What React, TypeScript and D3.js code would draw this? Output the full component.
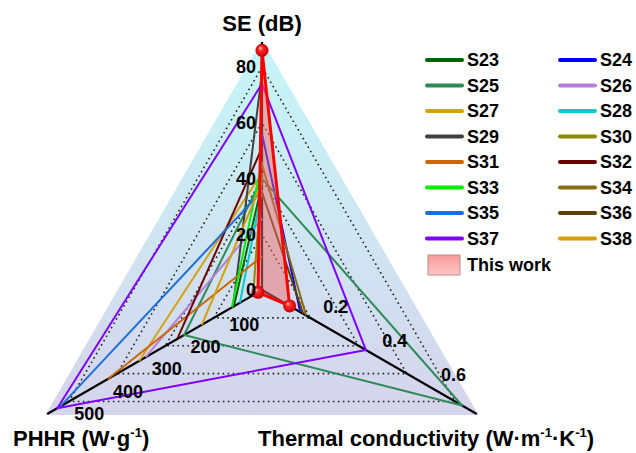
import * as d3 from "d3";

const seriesNames = ["S23", "S24", "S25", "S26", "S27", "S28", "S29", "S30", "S31", "S32", "S33", "S34", "S35", "S36", "S37", "S38"];
const seriesColors = ["#006400", "#0000ff", "#2e8b57", "#b57edc", "#d4a017", "#00cccc", "#404040", "#8b8b00", "#cc6600", "#6b0000", "#00ee00", "#8b6914", "#1c6fd8", "#5c4000", "#8000ff", "#d4a000"];
// SE (dB), PHHR (W/g), thermal conductivity (W/mK); null = not reported
const seValues = [38, 56, 40, 25.6, 42, 36, 78, 42, 12, 51, 46, 45, 35.5, 35, 74, 38.6];
const phhrValues = [70, null, 194, 290, 306, 55, 72, 22, 384, 211, 75, null, 503, null, 510, 150];
const tcValues = [null, 0.13, 0.68, null, null, null, null, null, null, null, null, 0.15, null, 0.14, 0.353, null];

const thisWork = { se: 86, phhr: 10, tc: 0.094 };

const seTicks = [0, 20, 40, 60, 80];
const phhrTicks = [100, 200, 300, 400, 500];
const tcTicks = [0.2, 0.4, 0.6];

const W = 636;
const H = 453;
const cx = 262;
const cy = 290;
const R = 248;

const rSE = d3.scaleLinear().domain([0, 89]).range([0, R]);
const rPHHR = d3.scaleLinear().domain([0, 535]).range([0, R]);
const rTC = d3.scaleLinear().domain([0, 0.73]).range([0, R]);

const angSE = -Math.PI / 2;
const angPHHR = (150 * Math.PI) / 180;
const angTC = (30 * Math.PI) / 180;

const pt = (ang: number, r: number): [number, number] => [cx + r * Math.cos(ang), cy + r * Math.sin(ang)];

const tri = (r: number) => [pt(angSE, r), pt(angPHHR, r), pt(angTC, r)];

const font = "'Liberation Sans', Arial, sans-serif";

export default function App() {
  const line = d3.line();

  const seriesPaths = seriesNames.map((name, i) => {
    const pts: [number, number][] = [];
    const p = phhrValues[i];
    const t = tcValues[i];
    if (p != null) pts.push(pt(angPHHR, rPHHR(p)));
    pts.push(pt(angSE, rSE(seValues[i])));
    if (t != null) pts.push(pt(angTC, rTC(t)));
    const closed = p != null && t != null;
    return { name, color: seriesColors[i], d: line(pts) + (closed ? "Z" : "") };
  });

  const twPts = [
    pt(angSE, rSE(thisWork.se)),
    pt(angPHHR, rPHHR(thisWork.phhr)),
    pt(angTC, rTC(thisWork.tc)),
  ];

  const outer = tri(R + 2);

  return (
    <div style={{ position: "fixed", left: 0, top: 0 }}>
      <svg width={W} height={H} style={{ display: "block", background: "#fff" }} fontFamily={font} fontWeight="bold">
        <defs>
          <linearGradient id="bg" x1="0" y1={outer[0][1]} x2="0" y2={outer[1][1]} gradientUnits="userSpaceOnUse">
            <stop offset="0" stopColor="#c4f6f8" />
            <stop offset="0.5" stopColor="#cfe6f2" />
            <stop offset="1" stopColor="#d6d4ec" />
          </linearGradient>
          <radialGradient id="ball" cx="0.5" cy="0.5" r="0.5" fx="0.35" fy="0.3">
            <stop offset="0" stopColor="#ffd0d0" />
            <stop offset="0.35" stopColor="#ff2a2a" />
            <stop offset="1" stopColor="#c80000" />
          </radialGradient>
          <linearGradient id="patch" x1="0" y1="0" x2="0" y2="1">
            <stop offset="0" stopColor="#f59a9a" />
            <stop offset="1" stopColor="#ffc4c4" />
          </linearGradient>
        </defs>

        {/* background triangle */}
        <path d={line(outer) + "Z"} fill="url(#bg)" />

        {/* dotted grid */}
        {seTicks.slice(1).map((v) => (
          <path key={v} d={line(tri(rSE(v))) + "Z"} fill="none" stroke="#222" strokeWidth={1.6} strokeDasharray="1.6 3.4" />
        ))}

        {/* axes */}
        {[angSE, angPHHR, angTC].map((a, i) => {
          const [x2, y2] = pt(a, R);
          return <line key={i} x1={cx} y1={cy} x2={x2} y2={y2} stroke="#000" strokeWidth={2.2} />;
        })}

        {/* literature series */}
        {seriesPaths.map((s) => (
          <path key={s.name} d={s.d} fill="none" stroke={s.color} strokeWidth={2} strokeLinejoin="round" />
        ))}

        {/* this work */}
        <path d={line(twPts) + "Z"} fill="#f06a6a" fillOpacity={0.5} stroke="#ff0000" strokeWidth={3} strokeLinejoin="round" />
        {twPts.map(([x, y], i) => (
          <circle key={i} cx={x} cy={y} r={6.5} fill="url(#ball)" />
        ))}

        {/* tick labels */}
        {seTicks.map((v) => (
          <text key={v} x={cx - 6} y={cy - rSE(v)} dy="0.35em" textAnchor="end" fontSize={18}>
            {v}
          </text>
        ))}
        {phhrTicks.map((v) => {
          const [x, y] = pt(angPHHR, rPHHR(v) * 0.965);
          return (
            <text key={v} x={x + 21} y={y + 12} dy="0.35em" textAnchor="middle" fontSize={18}>
              {v}
            </text>
          );
        })}
        {tcTicks.map((v) => {
          const [x, y] = pt(angTC, rTC(v));
          return (
            <text key={v} x={x + 15} y={y - 17} dy="0.35em" textAnchor="middle" fontSize={18}>
              {v}
            </text>
          );
        })}

        {/* axis titles */}
        <text x={cx} y={31} textAnchor="middle" fontSize={22}>SE (dB)</text>
        <text x={13} y={446} fontSize={22}>
          PHHR (W·g<tspan fontSize={13} dy={-9}>-1</tspan><tspan dy={9}>)</tspan>
        </text>
        <text x={258} y={446} fontSize={22}>
          Thermal conductivity (W·m<tspan fontSize={13} dy={-9}>-1</tspan>
          <tspan dy={9}>·K</tspan><tspan fontSize={13} dy={-9}>-1</tspan><tspan dy={9}>)</tspan>
        </text>

        {/* legend */}
        {seriesNames.map((name, i) => {
          const col = i % 2;
          const row = Math.floor(i / 2);
          const x0 = col === 0 ? 427 : 560;
          const y = 60 + row * 25.5;
          return (
            <g key={name}>
              <line x1={x0} y1={y} x2={x0 + 35} y2={y} stroke={seriesColors[i]} strokeWidth={4} strokeLinecap="round" />
              <text x={x0 + 40} y={y} dy="0.35em" fontSize={18}>{name}</text>
            </g>
          );
        })}
        <rect x={428} y={255} width={32} height={20} fill="url(#patch)" stroke="#c08a8a" strokeWidth={1} />
        <text x={467} y={265} dy="0.35em" fontSize={18}>This work</text>
      </svg>
    </div>
  );
}
